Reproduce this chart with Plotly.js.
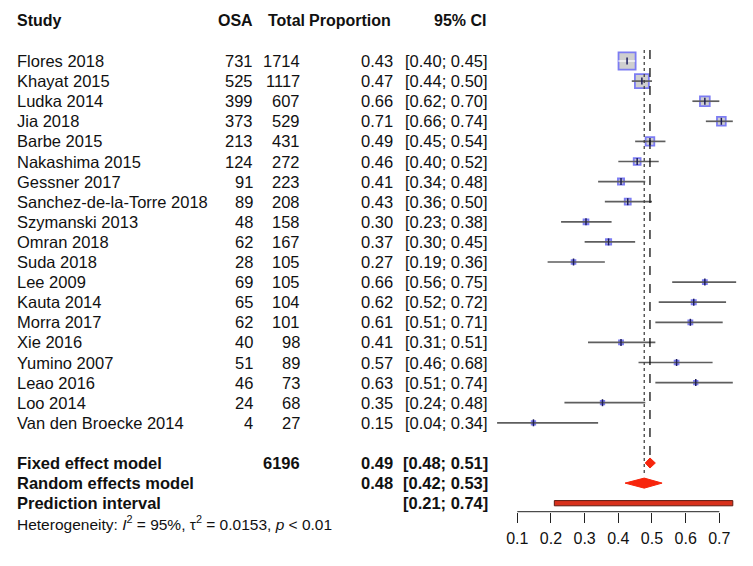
<!DOCTYPE html>
<html><head><meta charset="utf-8">
<script src="https://cdn.plot.ly/plotly-3.0.1.min.js"></script>
<style>html,body{margin:0;padding:0;background:#fff}</style>
</head><body><div id="chart" style="width:753px;height:566px"></div>
<script>
const studies = ["Flores 2018","Khayat 2015","Ludka 2014","Jia 2018","Barbe 2015","Nakashima 2015","Gessner 2017","Sanchez-de-la-Torre 2018","Szymanski 2013","Omran 2018","Suda 2018","Lee 2009","Kauta 2014","Morra 2017","Xie 2016","Yumino 2007","Leao 2016","Loo 2014","Van den Broecke 2014"];
const osa = [731,525,399,373,213,124,91,89,48,62,28,69,65,62,40,51,46,24,4];
const total = [1714,1117,607,529,431,272,223,208,158,167,105,105,104,101,98,89,73,68,27];
const proportion = [0.426,0.470,0.657,0.706,0.494,0.456,0.408,0.428,0.304,0.371,0.267,0.657,0.624,0.614,0.408,0.573,0.630,0.353,0.148];
const ciLower = [0.40,0.44,0.62,0.66,0.45,0.40,0.34,0.36,0.23,0.30,0.19,0.56,0.52,0.51,0.31,0.46,0.51,0.24,0.04];
const ciUpper = [0.45,0.50,0.70,0.74,0.54,0.52,0.48,0.50,0.38,0.45,0.36,0.75,0.72,0.71,0.51,0.68,0.74,0.48,0.34];
const weights = [28.5,18.9,9.3,7.5,7.3,4.6,3.7,3.5,2.3,2.7,1.4,1.6,1.7,1.6,1.6,1.5,1.2,1.1,0.2];

const summaryLabels = ["Fixed effect model","Random effects model","Prediction interval"];
const summaryEst = [0.494,0.477,null];
const summaryLower = [0.48,0.42,0.21];
const summaryUpper = [0.51,0.53,0.74];
const totalN = 6196;
const headers = ["Study","OSA","Total","Proportion","95% CI"];
const tickVals = [0.1,0.2,0.3,0.4,0.5,0.6,0.7];
const tickText = ["0.1","0.2","0.3","0.4","0.5","0.6","0.7"];
const hetI2 = "95%", hetTau2 = "0.0153", hetP = "< 0.01";

// layout constants
const W = 753, H = 566;
const rowTop = 61, rowStep = 20.1;
const pxToRow = p => (p - rowTop) / rowStep;
const yRange = [pxToRow(H), pxToRow(0)];
const headerRow = pxToRow(20);
const studyRows = studies.map((s,i)=>i);
const summaryRows = [20,21,22];
const hetRow = 23;
const axisPx = 511.7;
const FONT = "Liberation Sans, Arial, Helvetica, sans-serif";
const colX = {study:15, osa:255, total:302, prop:395, ci:490};
const fmt = v => v.toFixed(2);
const ciText = (l,u) => "[" + fmt(l) + "; " + fmt(u) + "]";
const sqSize = w => Math.max(3.5, 3.2*Math.sqrt(w));

const traces = [];
// squares
traces.push({
  x: proportion, y: studyRows, type:'scatter', mode:'markers', hoverinfo:'skip',
  marker:{symbol:'square', size: weights.map(sqSize),
    color:'#bcbcbc', line:{color:'#4646ee', width:1.8}}
});
// CI lines
const pxPerUnit = 336.7;
const lx=[], ly=[], wx=[], wy=[];
studies.forEach((s,i)=>{
  const inside = (ciUpper[i]-ciLower[i])*pxPerUnit < sqSize(weights[i]);
  const tx = inside ? wx : lx, ty = inside ? wy : ly;
  tx.push(ciLower[i], ciUpper[i], null); ty.push(i, i, null);
});
traces.push({x:lx, y:ly, type:'scatter', mode:'lines', hoverinfo:'skip', line:{color:'#5e5e5e', width:1.7}});
traces.push({x:wx, y:wy, type:'scatter', mode:'lines', hoverinfo:'skip', line:{color:'#ffffff', width:1.2}});
// center ticks
traces.push({x: proportion, y: studyRows, type:'scatter', mode:'markers', hoverinfo:'skip',
  marker:{symbol:'line-ns-open', size:5, color:'#1c1c5c', line:{color:'#1c1c5c', width:1.5}}});
// reference lines
traces.push({x:[summaryEst[1], summaryEst[1]], y:[-0.55, summaryRows[1]-0.4], type:'scatter', mode:'lines', hoverinfo:'skip',
  line:{color:'#444', width:1.3, dash:'dot'}});
traces.push({x:[summaryEst[0], summaryEst[0]], y:[-0.55, summaryRows[0]-0.35], type:'scatter', mode:'lines', hoverinfo:'skip',
  line:{color:'#111', width:1.3, dash:'dash'}});
// diamonds
[0,1].forEach(k=>{
  const r = summaryRows[k], h = 0.25;
  traces.push({x:[summaryLower[k], summaryEst[k], summaryUpper[k], summaryEst[k], summaryLower[k]],
    y:[r, r-h, r, r+h, r], type:'scatter', mode:'lines', fill:'toself', hoverinfo:'skip',
    fillcolor:'#f7250c', line:{color:'#f7250c', width:1}});
});
// prediction interval bar
{
  const r = summaryRows[2], h = 0.13;
  traces.push({x:[summaryLower[2], summaryUpper[2], summaryUpper[2], summaryLower[2], summaryLower[2]],
    y:[r-h, r-h, r+h, r+h, r-h], type:'scatter', mode:'lines', fill:'toself', hoverinfo:'skip',
    fillcolor:'#d8301b', line:{color:'#5e1a10', width:1}});
}

// annotations (text columns)
const ann = [];
function addText(px, row, text, anchor, bold, size){
  ann.push({xref:'paper', yref:'y', x: px/W, y: row, text: bold ? '<b>'+text+'</b>' : text,
    xanchor: anchor, yanchor:'middle', showarrow:false, font:{family:FONT, size: size||16.5, color:'#111'}});
}
addText(colX.study, headerRow, headers[0], 'left', true, 16);
addText(colX.osa, headerRow, headers[1], 'right', true, 16);
addText(colX.total+5, headerRow, headers[2], 'right', true, 16);
addText(colX.prop-2, headerRow, headers[3], 'right', true, 16);
addText(colX.ci-2, headerRow, headers[4], 'right', true, 16);
studies.forEach((s,i)=>{
  addText(colX.study, i, s, 'left', false);
  addText(colX.osa, i, String(osa[i]), 'right', false);
  addText(colX.total, i, String(total[i]), 'right', false);
  addText(colX.prop, i, fmt(proportion[i]), 'right', false);
  addText(colX.ci, i, ciText(ciLower[i], ciUpper[i]), 'right', false);
});
summaryLabels.forEach((s,k)=>{
  addText(colX.study, summaryRows[k], s, 'left', true);
  if (summaryEst[k] !== null) addText(colX.prop, summaryRows[k], fmt(summaryEst[k]), 'right', true);
  addText(colX.ci, summaryRows[k], ciText(summaryLower[k], summaryUpper[k]), 'right', true);
});
addText(colX.total, summaryRows[0], String(totalN), 'right', true);
addText(colX.study, hetRow, "Heterogeneity: <i>I</i><sup>2</sup> = " + hetI2 + ", τ<sup>2</sup> = " + hetTau2 + ", <i>p</i> " + hetP, 'left', false, 15.5);

const x0px = 517.3 - 0.1*pxPerUnit; // pixel of value 0
const layout = {
  width:W, height:H, margin:{l:0,r:0,t:0,b:0}, showlegend:false,
  paper_bgcolor:'#fff', plot_bgcolor:'rgba(0,0,0,0)',
  font:{family:FONT, color:'#111'},
  xaxis:{domain:[x0px/W, 1], range:[0, 0.8], anchor:'free', position: 1 - axisPx/H,
    showgrid:false, zeroline:false, showline:false, tickmode:'array', tickvals:tickVals, ticktext:tickText,
    ticks:'outside', ticklen:10, tickwidth:1, tickcolor:'#222', ticklabelstandoff:2,
    tickfont:{family:FONT, size:16, color:'#111'}, fixedrange:true},
  yaxis:{domain:[0,1], range:yRange, visible:false, fixedrange:true},
  shapes:[{type:'line', xref:'x', yref:'paper', x0:tickVals[0], x1:tickVals[tickVals.length-1],
    y0:1-axisPx/H, y1:1-axisPx/H, line:{color:'#222', width:1}}],
  annotations: ann
};
Plotly.newPlot('chart', traces, layout, {staticPlot:true, displayModeBar:false});
</script></body></html>
